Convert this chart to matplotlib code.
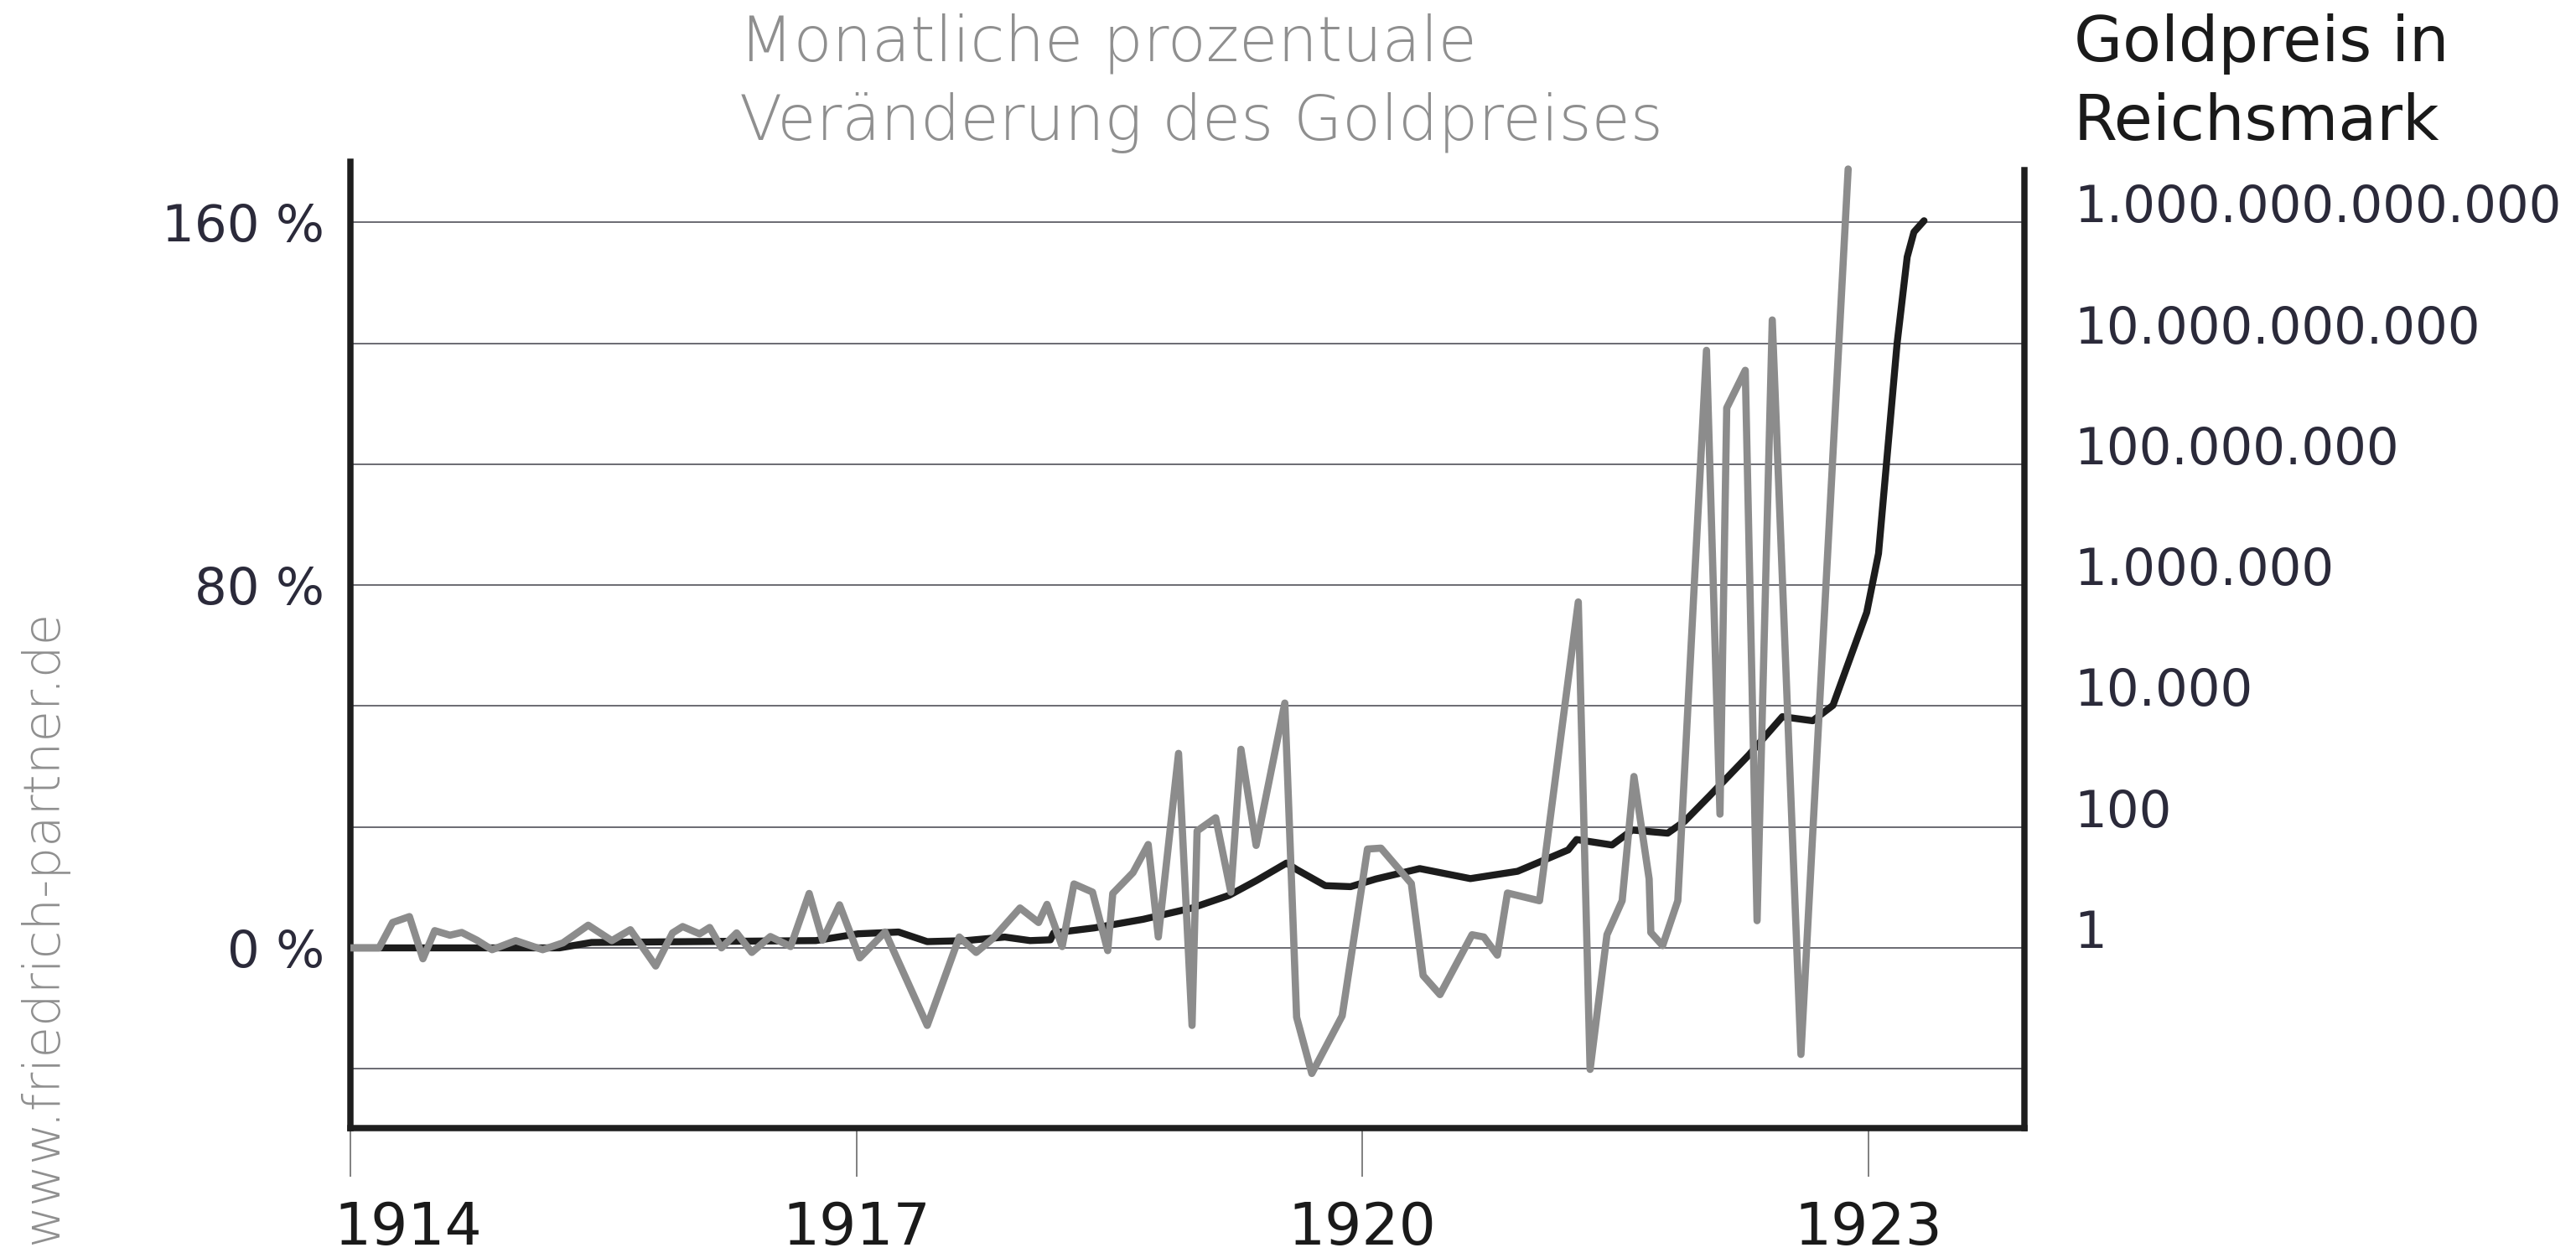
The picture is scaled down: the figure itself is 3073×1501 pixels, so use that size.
import matplotlib
matplotlib.use("Agg")
import matplotlib.pyplot as plt
from matplotlib.ticker import NullLocator

plt.rcParams['font.family'] = ['DejaVu Sans']

# ---------------- data ----------------
# monthly percentage change of the gold price (left axis, %)
gray_year = [1914.00, 1914.17, 1914.25, 1914.35, 1914.43, 1914.50, 1914.59, 1914.66,
             1914.75, 1914.84, 1914.98, 1915.14, 1915.26, 1915.41, 1915.55, 1915.66,
             1915.81, 1915.91, 1915.97, 1916.07, 1916.13, 1916.20, 1916.29, 1916.38,
             1916.49, 1916.61, 1916.72, 1916.80, 1916.90, 1917.02, 1917.17, 1917.42,
             1917.61, 1917.71, 1917.81, 1917.97, 1918.08, 1918.13, 1918.22, 1918.29,
             1918.40, 1918.49, 1918.52, 1918.64, 1918.73, 1918.79, 1918.91, 1918.99,
             1919.02, 1919.13, 1919.22, 1919.28, 1919.37, 1919.54, 1919.61, 1919.70,
             1919.88, 1920.03, 1920.11, 1920.29, 1920.36, 1920.46, 1920.65, 1920.72,
             1920.80, 1920.86, 1921.05, 1921.28, 1921.35, 1921.45, 1921.54, 1921.61,
             1921.70, 1921.71, 1921.78, 1921.87, 1922.04, 1922.12, 1922.16, 1922.27,
             1922.34, 1922.43, 1922.60, 1922.88]
gray_pct = [0.0, 0.0, 5.6, 6.9, -2.4, 3.8, 2.8, 3.4,
            1.7, -0.4, 1.6, -0.4, 1.1, 5.0, 1.6, 4.0,
            -4.0, 3.3, 4.7, 3.1, 4.5, 0.0, 3.3, -1.0,
            2.5, 0.3, 12.0, 1.7, 9.5, -2.2, 3.5, -17.1,
            2.4, -1.0, 2.1, 8.8, 5.6, 9.6, 0.3, 14.1,
            12.3, -0.6, 12.0, 16.6, 22.8, 2.4, 42.9, -17.1,
            25.8, 28.7, 12.3, 43.8, 22.6, 54.0, -15.3, -27.7,
            -15.0, 21.8, 22.0, 14.2, -6.1, -10.3, 2.9, 2.4,
            -1.6, 12.1, 10.4, 76.3, -26.8, 2.9, 10.4, 37.8,
            15.2, 3.4, 0.5, 10.4, 131.8, 29.5, 119.1, 127.4,
            6.0, 138.5, -23.5, 171.8]

# gold price in Reichsmark (right axis, log scale)
black_year = [1914.00, 1915.24, 1915.43, 1916.76, 1916.89, 1917.01, 1917.25, 1917.42,
              1917.65, 1917.88, 1918.03, 1918.15, 1918.17, 1918.41, 1918.70, 1918.99,
              1919.21, 1919.37, 1919.55, 1919.61, 1919.78, 1919.93, 1920.08, 1920.34,
              1920.64, 1920.92, 1921.22, 1921.27, 1921.48, 1921.60, 1921.81, 1921.91,
              1922.06, 1922.29, 1922.49, 1922.67, 1922.79, 1922.99, 1923.06, 1923.17,
              1923.23, 1923.27, 1923.33]
black_rm = [1.0, 1.0, 1.23, 1.32, 1.51, 1.71, 1.83, 1.27,
            1.32, 1.51, 1.32, 1.36, 1.77, 2.14, 2.97, 4.57,
            7.41, 12.9, 25.3, 19.8, 10.7, 10.3, 13.8, 20.5,
            14.0, 18.5, 41.7, 62.0, 50.4, 89.0, 79.0, 124.0,
            331.0, 1540.0, 6680.0, 5720.0, 10300.0, 354800.0, 3.35e6, 9.94e9,
            2.69e11, 6.96e11, 1.07e12]

x_ticks = [1914, 1917, 1920, 1923]
x_labels = ['1914', '1917', '1920', '1923']
left_ticks = [0, 80, 160]
left_labels = ['0 %', '80 %', '160 %']
right_ticks = [1, 1e2, 1e4, 1e6, 1e8, 1e10, 1e12]
right_labels = ['1', '100', '10.000', '1.000.000', '100.000.000',
                '10.000.000.000', '1.000.000.000.000']
grid_levels = [1e-2, 1, 1e2, 1e4, 1e6, 1e8, 1e10, 1e12]

# ---------------- figure ----------------
W, H = 3073, 1501
fig = plt.figure(figsize=(W / 100, H / 100), dpi=100)
fig.patch.set_facecolor('white')

x0, x1, ybot, ytop = 418, 2415, 1346, 193
ax = fig.add_axes([x0 / W, 1 - ybot / H, (x1 - x0) / W, (ybot - ytop) / H])

pct_lo, pct_hi = -39.75, 173.4
ax.set_xlim(1914, 1923.925)
ax.set_ylim(pct_lo, pct_hi)

ax2 = ax.twinx()
ax2.set_yscale('log')
# 80/3 percent on the left axis corresponds to a factor of 100 on the right
ax2.set_ylim(100 ** (pct_lo / (80 / 3)), 100 ** (pct_hi / (80 / 3)))

ax2.set_zorder(1)
ax.set_zorder(2)
ax.patch.set_visible(False)

for g in grid_levels:
    ax2.axhline(g, color='#6a6a72', lw=1.4, zorder=0)

ax2.plot(black_year, black_rm, color='#1c1c1c', lw=6.0,
         solid_capstyle='round', solid_joinstyle='round', zorder=2)
ax.plot(gray_year, gray_pct, color='#8c8c8c', lw=6.2,
        solid_capstyle='round', solid_joinstyle='round', zorder=3)

# spines
for s in ax2.spines.values():
    s.set_visible(False)
ax.spines['top'].set_visible(False)
for name in ['left', 'bottom', 'right']:
    sp = ax.spines[name]
    sp.set_linewidth(5.4)
    sp.set_color('#1e1e1e')
    sp.set_capstyle('projecting')
ax.spines['right'].set_bounds(pct_lo, 171.6)

# left axis ticks
ax.set_yticks(left_ticks)
ax.set_yticklabels(left_labels)
ax.tick_params(axis='y', length=0, pad=22, labelsize=44, labelcolor='#2b2a3a')

# x axis ticks (first label drawn separately, shifted left like the original)
ax.set_xticks(x_ticks)
ax.set_xticklabels([''] + x_labels[1:])
ax.tick_params(axis='x', direction='out', length=42, width=1.4, color='#808080',
               pad=20, labelsize=50, labelcolor='#1a1a1a')
ax.annotate(x_labels[0], xy=(x_ticks[0], 0), xycoords=('data', 'axes fraction'),
            xytext=(-14, -62), textcoords='offset points', ha='left', va='top',
            fontsize=50, color='#1a1a1a', annotation_clip=False)

# right axis ticks
ax2.set_yticks(right_ticks)
ax2.set_yticklabels(right_labels)
ax2.yaxis.set_minor_locator(NullLocator())
ax2.tick_params(axis='y', which='both', length=0, pad=43, labelsize=44,
                labelcolor='#2b2a3a')
for t in ax2.get_yticklabels():
    t.set_va('baseline')

# titles
fig.text(882 / W, 1 - 73 / H, 'Monatliche prozentuale', color='#8f8f8f',
         fontsize=54, fontweight='light', ha='left', va='baseline')
fig.text(882 / W, 1 - 167 / H, 'Veränderung des Goldpreises', color='#8f8f8f',
         fontsize=54, fontweight='light', ha='left', va='baseline')
fig.text(2474 / W, 1 - 73 / H, 'Goldpreis in', color='#1a1a1a',
         fontsize=54, ha='left', va='baseline')
fig.text(2474 / W, 1 - 167 / H, 'Reichsmark', color='#1a1a1a',
         fontsize=54, ha='left', va='baseline')

# watermark
fig.text(52 / W, 1 - 1106 / H, 'www.friedrich-partner.de', rotation=90,
         color='#8f8f8f', fontsize=44, fontweight='light', ha='center', va='center')

fig.savefig('out.png', dpi=100, facecolor='white')
